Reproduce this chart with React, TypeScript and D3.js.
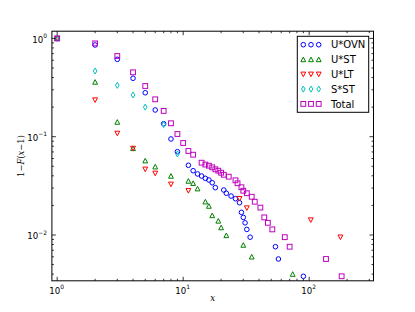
import React from "react";
import * as d3 from "d3";

const W = 415, H = 312;
const ML = 51.9, MR = 373.5, MT = 31.2, MB = 280.8;
const xDomain = [0.908, 324];
const yDomain = [0.00342, 1.184];

// U*OVN
const xOVN = [1, 2, 3, 4, 5, 6, 7, 8, 9, 11, 12, 13, 14, 15, 16, 17, 18, 21, 22, 24, 26, 28, 29, 30, 31, 32, 34, 54, 57, 90];
const yOVN = [1, 0.857, 0.613, 0.393, 0.28, 0.187, 0.1356, 0.0948, 0.0704, 0.0512, 0.0451, 0.0418, 0.0398, 0.0377, 0.0363, 0.034, 0.0303, 0.0287, 0.0266, 0.0249, 0.0234, 0.0213, 0.017, 0.0151, 0.0133, 0.0114, 0.0095, 0.0076, 0.0057, 0.0038];
// U*ST
const xUST = [1, 2, 3, 4, 5, 6, 8, 11, 12, 13, 15, 16, 17, 19, 20, 22, 30, 35, 74];
const yUST = [1, 0.36, 0.141, 0.076, 0.057, 0.0495, 0.0398, 0.0354, 0.0336, 0.0296, 0.0218, 0.0197, 0.0158, 0.0139, 0.0119, 0.0099, 0.0079, 0.006, 0.004];
// U*LT
const xULT = [1, 2, 3, 4, 5, 6, 8, 11, 28, 32, 103, 177];
const yULT = [1, 0.236, 0.108, 0.076, 0.0466, 0.0424, 0.0328, 0.0282, 0.0234, 0.0188, 0.0142, 0.0095];
// S*ST
const xSST = [1, 2, 3, 4, 5, 7, 9];
const ySST = [1, 0.466, 0.333, 0.266, 0.2, 0.133, 0.0667];
// Total
const xTot = [1, 2, 3, 4, 5, 6, 7, 8, 9, 10, 11, 12, 14, 15, 16, 17, 18, 19, 20, 21, 23, 26, 27, 29, 30, 32, 35, 37, 41, 44, 47, 51, 64, 70, 136, 181];
const yTot = [1, 0.89, 0.662, 0.452, 0.328, 0.24, 0.183, 0.137, 0.1065, 0.0863, 0.0716, 0.0656, 0.0544, 0.0521, 0.0507, 0.0488, 0.0466, 0.0451, 0.043, 0.041, 0.0392, 0.036, 0.0336, 0.0306, 0.0282, 0.0266, 0.0245, 0.0218, 0.019, 0.0151, 0.0133, 0.0114, 0.0095, 0.0076, 0.0057, 0.0038];

const seriesNames = ["U*OVN", "U*ST", "U*LT", "S*ST", "Total"];
const seriesColors = ["#0000ff", "#008000", "#ff0000", "#00bfbf", "#bf00bf"];
const seriesMarkers = ["o", "^", "v", "d", "s"];

const xMajor = [1, 10, 100];
const xMajorExp = ["0", "1", "2"];
const yMajor = [1, 0.1, 0.01];
const yMajorExp = ["0", "\u22121", "\u22122"];

function Marker({ type, x, y, color }: { type: string; x: number; y: number; color: string }) {
  const common = { fill: "none", stroke: color, strokeWidth: 1 };
  if (type === "o") return <circle cx={x} cy={y} r={2.3} {...common} />;
  if (type === "s") return <rect x={x - 2.4} y={y - 2.4} width={4.8} height={4.8} {...common} />;
  let d = "";
  if (type === "^") d = `M${x},${y - 2.4}L${x + 2.4},${y + 2.2}L${x - 2.4},${y + 2.2}Z`;
  if (type === "v") d = `M${x},${y + 2.4}L${x + 2.4},${y - 2.2}L${x - 2.4},${y - 2.2}Z`;
  if (type === "d") d = `M${x},${y - 3}L${x + 1.8},${y}L${x},${y + 3}L${x - 1.8},${y}Z`;
  return <path d={d} {...common} />;
}

export default function App() {
  const xs = d3.scaleLog().domain(xDomain).range([ML, MR]);
  const ys = d3.scaleLog().domain(yDomain).range([MB, MT]);
  const xsData = [xOVN, xUST, xULT, xSST, xTot];
  const ysData = [yOVN, yUST, yULT, ySST, yTot];

  const xMinor: number[] = [];
  [0.1, 1, 10, 100].forEach((b) => {
    for (let k = 2; k <= 9; k++) {
      const v = b * k;
      if (v > xDomain[0] && v < xDomain[1]) xMinor.push(v);
    }
  });
  const yMinor: number[] = [];
  [0.001, 0.01, 0.1, 1].forEach((b) => {
    for (let k = 2; k <= 9; k++) {
      const v = b * k;
      if (v > yDomain[0] && v < yDomain[1]) yMinor.push(v);
    }
  });

  const tickFont = "DejaVu Sans";
  const legX = 297.3, legY = 36.3, legW = 71.4, legH = 76;

  return (
    <svg width={W} height={H} style={{ position: "absolute", left: 0, top: 0, background: "#fff" }}>
      <rect x={0} y={0} width={W} height={H} fill="#fff" />
      {/* data */}
      {xsData.map((xa, si) =>
        xa.map((xv, i) => (
          <Marker key={`${si}-${i}`} type={seriesMarkers[si]} x={xs(xv)} y={ys(ysData[si][i])} color={seriesColors[si]} />
        ))
      )}
      {/* ticks */}
      <g stroke="#000" strokeWidth={0.8}>
        {xMajor.map((v) => (
          <g key={`xm${v}`}>
            <line x1={xs(v)} x2={xs(v)} y1={MB} y2={MB - 4} />
            <line x1={xs(v)} x2={xs(v)} y1={MT} y2={MT + 4} />
          </g>
        ))}
        {xMinor.map((v) => (
          <g key={`xn${v}`}>
            <line x1={xs(v)} x2={xs(v)} y1={MB} y2={MB - 2} />
            <line x1={xs(v)} x2={xs(v)} y1={MT} y2={MT + 2} />
          </g>
        ))}
        {yMajor.map((v) => (
          <g key={`ym${v}`}>
            <line x1={ML} x2={ML + 4} y1={ys(v)} y2={ys(v)} />
            <line x1={MR} x2={MR - 4} y1={ys(v)} y2={ys(v)} />
          </g>
        ))}
        {yMinor.map((v) => (
          <g key={`yn${v}`}>
            <line x1={ML} x2={ML + 2} y1={ys(v)} y2={ys(v)} />
            <line x1={MR} x2={MR - 2} y1={ys(v)} y2={ys(v)} />
          </g>
        ))}
      </g>
      {/* frame */}
      <rect x={ML} y={MT} width={MR - ML} height={MB - MT} fill="none" stroke="#000" strokeWidth={1} />
      {/* tick labels */}
      <g fontFamily={tickFont} fontSize={8.6} fill="#000">
        {xMajor.map((v, i) => (
          <text key={`xl${v}`} x={xs(v) - 0.5} y={293.5} textAnchor="middle">
            10<tspan dy={-4.5} fontSize={6}>{xMajorExp[i]}</tspan>
          </text>
        ))}
        {yMajor.map((v, i) => (
          <text key={`yl${v}`} x={47} y={ys(v) + 4.2} textAnchor="end">
            10<tspan dy={-4.5} fontSize={6}>{yMajorExp[i]}</tspan>
          </text>
        ))}
      </g>
      {/* axis labels */}
      <text x={(ML + MR) / 2} y={301} textAnchor="middle" fontFamily="DejaVu Serif" fontStyle="italic" fontSize={8.6}>
        x
      </text>
      <text
        transform={`translate(24,${(MT + MB) / 2}) rotate(-90)`}
        textAnchor="middle"
        fontFamily="DejaVu Serif"
        fontSize={8.4}
      >
        1{"\u2212"}<tspan fontStyle="italic">F</tspan>(<tspan fontStyle="italic">x</tspan>{"\u2212"}1)
      </text>
      {/* legend */}
      <rect x={legX} y={legY} width={legW} height={legH} fill="#fff" stroke="#000" strokeWidth={1} />
      {seriesNames.map((name, i) => {
        const cy = legY + 8.4 + i * 14.8;
        return (
          <g key={name}>
            {[303.3, 311, 318.7].map((mx, k) => (
              <Marker key={k} type={seriesMarkers[i]} x={mx} y={cy} color={seriesColors[i]} />
            ))}
            <text x={331} y={cy + 3.6} fontFamily="DejaVu Sans" fontSize={10} fill="#000">
              {name}
            </text>
          </g>
        );
      })}
    </svg>
  );
}
